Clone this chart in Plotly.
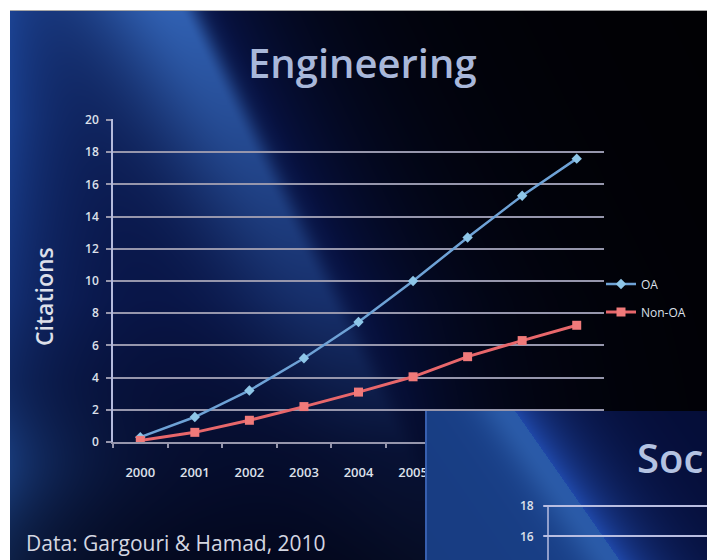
import numpy as np
import zlib, struct, base64
import plotly.graph_objects as go

# ---------------- data ----------------
years = ["2000", "2001", "2002", "2003", "2004", "2005", "2006", "2007", "2008"]
oa_citations = [0.3, 1.55, 3.2, 5.2, 7.45, 10.0, 12.7, 15.3, 17.6]
non_oa_citations = [0.1, 0.6, 1.35, 2.2, 3.1, 4.05, 5.3, 6.3, 7.25]
y_ticks = [0, 2, 4, 6, 8, 10, 12, 14, 16, 18, 20]
soc_ticks = [16, 18]

W, H = 707, 560


def px(X):
    return X / W


def py(Y):
    return 1 - Y / H


def png_uri(rgb):
    rgb = np.clip(rgb, 0, 255).astype(np.uint8)
    h, w, _ = rgb.shape
    raw = b"".join(b"\x00" + rgb[i].tobytes() for i in range(h))

    def chunk(t, d):
        c = struct.pack(">I", len(d)) + t + d
        return c + struct.pack(">I", zlib.crc32(t + d) & 0xFFFFFFFF)

    png = (b"\x89PNG\r\n\x1a\n"
           + chunk(b"IHDR", struct.pack(">IIBBBBB", w, h, 8, 2, 0, 0, 0))
           + chunk(b"IDAT", zlib.compress(raw, 9))
           + chunk(b"IEND", b""))
    return "data:image/png;base64," + base64.b64encode(png).decode()


def gauss(a, w):
    return np.exp(-(a / w) ** 2)


# ---------------- main slide background ----------------
yy, xx = np.mgrid[0:H, 0:W].astype(float)
s = xx - (215 + 0.5 * (yy - 12))
base = np.where(s > 0, np.exp(-s / 110.0), 1.0) * np.clip(1 - (yy - 300) / 450.0, 0.35, 1)
d = s + 35
band = np.where(d < 0, np.exp(-(d / 100.0) ** 2), np.exp(-(d / 20.0) ** 2))
v = np.clip(1 - (yy - 12) / 480.0, 0.08, 1.0)
left = np.exp(-np.maximum(xx - 10, 0) / 65.0) * (
    0.95 - 0.45 * np.clip((yy - 120) / 260.0, 0, 1) + 0.45 * gauss(yy - 465, 55))
img = np.zeros(yy.shape + (3,))
img += np.array([6, 16, 60]) * base[..., None]
img += np.array([40, 76, 108]) * (band * v)[..., None]
img += np.array([20, 48, 80]) * left[..., None]
img += np.array([1, 1, 4])
img[:11, :, :] = 255
img[:, :10, :] = 255
img[10, 10:, :] = 165
main_bg = png_uri(img)

# ---------------- second slide background ----------------
X0, Y0 = 425, 411
yy2, xx2 = np.mgrid[Y0:H, X0:W].astype(float)
s2 = xx2 - (515 + 0.7 * (yy2 - Y0))
lc = np.array([27, 68, 145]) * (0.9 + 0.1 * np.exp(s2 / 50.0))[..., None] \
    + np.array([16, 24, 26]) * gauss(s2 + 10, 30)[..., None]
rc = np.array([5, 13, 55]) + np.array([26, 58, 112]) * np.exp(-np.maximum(s2, 0) / 45.0)[..., None]
img2 = np.where((s2 < 0)[..., None], lc, rc)
img2[:, 0:2, :] = np.array([55, 95, 175])
soc_bg = png_uri(img2)

# ---------------- figure ----------------
font_fam = "Open Sans, Lato, sans-serif"
grid_c = "rgb(150,150,172)"
text_c = "#dde0ea"

fig = go.Figure()
fig.add_trace(go.Scatter(
    x=years, y=oa_citations, name="OA", mode="lines+markers", legend="legend",
    line=dict(color="#6ea2d6", width=2.5),
    marker=dict(symbol="diamond", size=8, color="#8ec6e8"),
))
fig.add_trace(go.Scatter(
    x=years, y=non_oa_citations, name="Non-OA", mode="lines+markers", legend="legend2",
    line=dict(color="#e8676b", width=3),
    marker=dict(symbol="square", size=9, color="#f07a7a"),
))
fig.add_trace(go.Scatter(x=[], y=[], xaxis="x2", yaxis="y2", showlegend=False, hoverinfo="skip"))

shapes = []
for t in soc_ticks:
    shapes.append(dict(type="line", layer="above", xref="x2 domain", yref="y2",
                       x0=-0.03, x1=1.0, y0=t, y1=t,
                       line=dict(color="rgb(185,190,225)", width=2)))
shapes.append(dict(type="line", layer="above", xref="x2 domain", yref="y2",
                   x0=0, x1=0, y0=14.0, y1=max(soc_ticks),
                   line=dict(color="rgb(185,190,225)", width=1.5)))

annotations = [
    dict(text="Engineering", x=px(362), y=py(62), xref="paper", yref="paper",
         xanchor="center", yanchor="middle", showarrow=False,
         font=dict(family=font_fam, size=40, color="#a9b8da", weight=600)),
    dict(text="Citations", x=px(44), y=py(297), xref="paper", yref="paper",
         xanchor="center", yanchor="middle", showarrow=False, textangle=-90,
         font=dict(family=font_fam, size=23, color=text_c, weight=600)),
    dict(text="Data: Gargouri &amp; Hamad, 2010", x=px(24), y=py(543), xref="paper", yref="paper",
         xanchor="left", yanchor="middle", showarrow=False,
         font=dict(family=font_fam, size=21, color="#d4d7e2")),
    dict(text="Soc", x=px(635), y=py(457), xref="paper", yref="paper",
         xanchor="left", yanchor="middle", showarrow=False,
         font=dict(family=font_fam, size=40, color="#b4c3e2", weight=600)),
]
for t in soc_ticks:
    annotations.append(dict(text=str(t), x=0, y=t, xref="x2 domain", yref="y2",
                            xanchor="right", yanchor="middle", xshift=-12, showarrow=False,
                            font=dict(family=font_fam, size=12, color=text_c, weight=600)))

# y pixel scale: 0 -> 442, 20 -> 120
ymax = 20.05
ytop_px = 442 - ymax * (442 - 120) / 20.0
# second chart: 18 -> 506, 16 -> 536 (15 px per unit)
y2_lo = 18 - (H - 506) / 15.0
y2_hi = 18 + (506 - Y0) / 15.0

fig.update_layout(
    width=W, height=H,
    margin=dict(l=0, r=0, t=0, b=0, pad=0),
    paper_bgcolor="white", plot_bgcolor="rgba(0,0,0,0)",
    font=dict(family=font_fam, color=text_c),
    showlegend=True,
    xaxis=dict(type="category", domain=[px(113), px(604)], range=[-0.5, 8.5],
               showgrid=False, zeroline=False, showline=True, linecolor=grid_c, linewidth=2,
               ticks="outside", tickson="boundaries", ticklen=4, tickcolor=grid_c, tickwidth=1.5,
               tickfont=dict(size=13, color=text_c, weight=600), ticklabelstandoff=17,
               automargin=False, fixedrange=True),
    yaxis=dict(domain=[py(442), py(ytop_px)], range=[0, ymax], tickvals=y_ticks,
               showgrid=True, gridcolor=grid_c, gridwidth=2, zeroline=False,
               showline=True, linecolor="rgb(180,186,220)", linewidth=1.5,
               ticks="outside", ticklen=5, tickcolor=grid_c, tickwidth=2,
               tickfont=dict(size=12, color=text_c, weight=600), ticklabelstandoff=5,
               automargin=False, fixedrange=True),
    xaxis2=dict(domain=[px(548), 1], range=[0, 1], visible=False, anchor="y2", fixedrange=True),
    yaxis2=dict(domain=[0, py(Y0)], range=[y2_lo, y2_hi], visible=False, anchor="x2", fixedrange=True),
    legend=dict(x=px(601), y=py(284), xanchor="left", yanchor="middle", bgcolor="rgba(0,0,0,0)",
                borderwidth=0, itemwidth=30, font=dict(size=12, color=text_c)),
    legend2=dict(x=px(601), y=py(312), xanchor="left", yanchor="middle", bgcolor="rgba(0,0,0,0)",
                 borderwidth=0, itemwidth=30, font=dict(size=12, color=text_c)),
    images=[
        dict(source=main_bg, xref="paper", yref="paper", x=0, y=1, sizex=1, sizey=1,
             xanchor="left", yanchor="top", sizing="stretch", layer="below"),
        dict(source=soc_bg, xref="paper", yref="paper", x=px(X0), y=py(Y0),
             sizex=(W - X0) / W, sizey=(H - Y0) / H,
             xanchor="left", yanchor="top", sizing="stretch", layer="above"),
    ],
    shapes=shapes,
    annotations=annotations,
)

fig.write_html(
    "out.html",
    config={"displayModeBar": False},
    post_script="document.documentElement.style.overflow='hidden';"
                "document.body.style.margin='0';document.body.style.overflow='hidden';",
)
